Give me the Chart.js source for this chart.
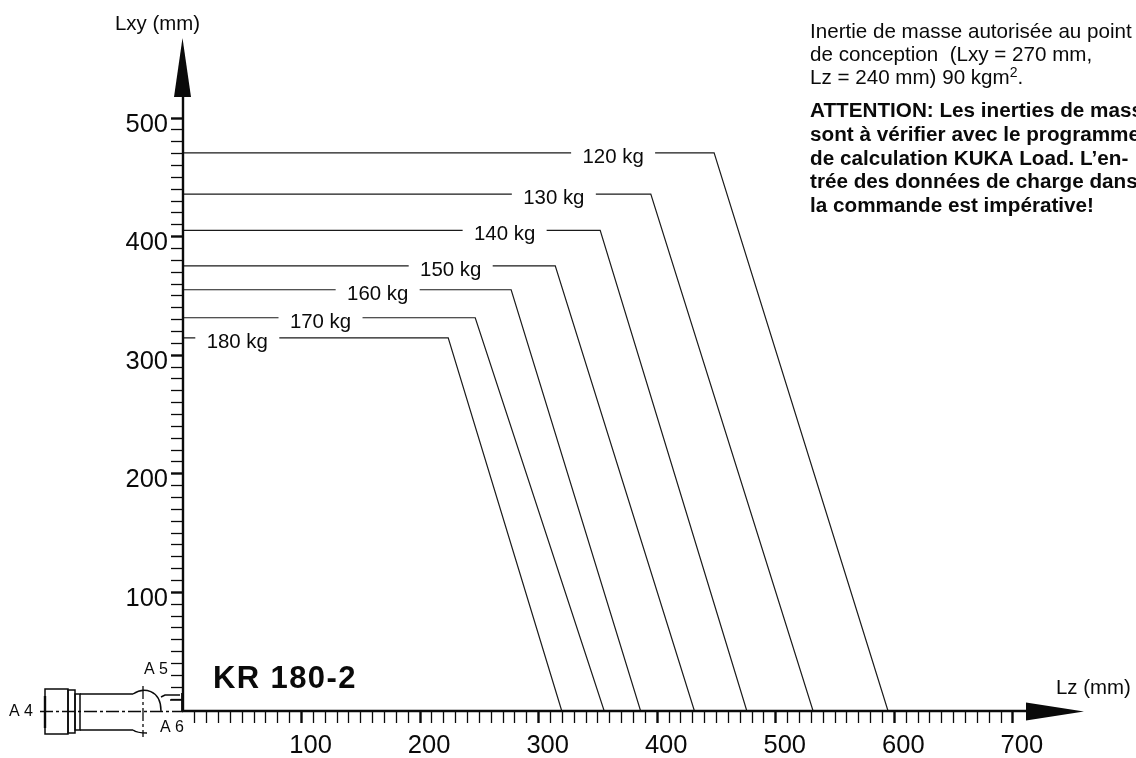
<!DOCTYPE html>
<html>
<head>
<meta charset="utf-8">
<style>
  html, body { margin: 0; padding: 0; background: #fff; overflow: hidden; }
  canvas { display: block; }
</style>
<script src="https://cdn.jsdelivr.net/npm/chart.js@4"></script>
</head>
<body>
<canvas id="payloadChart" width="1136" height="758"></canvas>
<script>
// payload curves, values
const loads = ['120 kg', '130 kg', '140 kg', '150 kg', '160 kg', '170 kg', '180 kg'];
const lxyMax = [470.7, 435.9, 405.3, 375.4, 355.2, 331.6, 314.7];
const lzAtCorner = [448, 394.6, 351.9, 314, 276.8, 246.5, 223.7];
const lzAtZero = [594.7, 531.5, 475.6, 431.4, 386, 355.3, 319.5];
const labelLz = [362.8, 312.8, 271.3, 225.8, 164.2, 116, 45.8];

const noteLines = ['Inertie de masse autorisée au point', 'de conception  (Lxy = 270 mm,', 'Lz = 240 mm) 90 kgm'];
const warnLines = ['ATTENTION: Les inerties de masse', 'sont à vérifier avec le programme', 'de calculation KUKA Load. L’en-', 'trée des données de charge dans', 'la commande est impérative!'];

const FONT = '"Liberation Sans", Arial, sans-serif';
const INK = '#0a0a0a';

const datasets = loads.map((name, i) => ({
  label: name,
  data: [
    { x: 0, y: lxyMax[i] },
    { x: lzAtCorner[i], y: lxyMax[i] },
    { x: lzAtZero[i], y: 0 }
  ],
  showLine: true,
  borderColor: '#1a1a1a',
  borderWidth: 1.2,
  pointRadius: 0,
  tension: 0
}));

function text(ctx, str, x, y, font, align) {
  ctx.font = font + ' ' + FONT;
  ctx.textAlign = align || 'left';
  ctx.textBaseline = 'alphabetic';
  ctx.fillStyle = INK;
  ctx.fillText(str, x, y);
}

// white box + load name sitting on each horizontal run
const curveLabels = {
  id: 'curveLabels',
  afterDatasetsDraw(chart) {
    const { ctx, scales } = chart;
    ctx.save();
    loads.forEach((name, i) => {
      const px = scales.x.getPixelForValue(labelLz[i]);
      const py = scales.y.getPixelForValue(lxyMax[i]);
      ctx.fillStyle = '#fff';
      ctx.fillRect(px - 42, py - 3, 84, 6);
      text(ctx, name, px, py + 10, '20.4px', 'center');
    });
    ctx.restore();
  }
};

// axis lines, arrow heads, wrist sketch and captions
const decorations = {
  id: 'decorations',
  afterDraw(chart) {
    const { ctx, scales, chartArea } = chart;
    const ox = scales.x.getPixelForValue(0);
    const oy = scales.y.getPixelForValue(0);
    ctx.save();
    ctx.strokeStyle = INK;
    ctx.fillStyle = INK;

    ctx.lineWidth = 2.4;
    ctx.beginPath();
    ctx.moveTo(ox, oy + 1);
    ctx.lineTo(ox, chartArea.top + 40);
    ctx.moveTo(ox - 1, oy);
    ctx.lineTo(chartArea.right - 40, oy);
    ctx.stroke();

    ctx.beginPath();
    ctx.moveTo(ox - 0.5, chartArea.top);
    ctx.lineTo(ox + 8, chartArea.top + 59);
    ctx.lineTo(ox - 9, chartArea.top + 59);
    ctx.closePath();
    ctx.fill();
    ctx.beginPath();
    ctx.moveTo(chartArea.right, oy + 0.5);
    ctx.lineTo(chartArea.right - 58, oy - 8.5);
    ctx.lineTo(chartArea.right - 58, oy + 9.5);
    ctx.closePath();
    ctx.fill();

    drawWrist(ctx, ox, oy);

    text(ctx, 'Lxy (mm)', 115, 30, '20.4px');
    text(ctx, 'Lz (mm)', 1056, 694, '20.4px');
    ctx.letterSpacing = '1.4px';
    text(ctx, 'KR 180-2', 213, 687.5, 'bold 31px');
    ctx.letterSpacing = '0px';
    text(ctx, 'A 5', 144, 674, '16px');
    text(ctx, 'A 4', 9, 716, '16px');
    text(ctx, 'A 6', 160, 732, '16px');

    noteLines.forEach((l, i) => text(ctx, l, 810, 37.5 + i * 23.2, '20.6px'));
    const supX = 810 + ctx.measureText(noteLines[2]).width;
    text(ctx, '2', supX, 77, '14px');
    const supW = ctx.measureText('2').width;
    text(ctx, '.', supX + supW, 84, '20.6px');
    warnLines.forEach((l, i) => text(ctx, l, 810, 117.3 + i * 23.7, 'bold 20.7px'));
    ctx.restore();
  }
};

function drawWrist(ctx, ox, oy) {
  const X = dx => ox + dx, Y = dy => oy + dy;
  ctx.lineWidth = 1.5;
  ctx.strokeRect(X(-138), Y(-22), 23, 45);
  ctx.strokeRect(X(-115), Y(-21), 7, 43);
  ctx.strokeRect(X(-108), Y(-17), 5, 36);
  ctx.beginPath();
  ctx.moveTo(X(-103), Y(-17));
  ctx.lineTo(X(-50), Y(-17));
  ctx.moveTo(X(-103), Y(19));
  ctx.lineTo(X(-50), Y(19));
  // upper and lower fork
  ctx.moveTo(X(-50), Y(-17));
  ctx.bezierCurveTo(X(-40), Y(-24), X(-22), Y(-22), X(-22), Y(0));
  ctx.moveTo(X(-22), Y(-14));
  ctx.lineTo(X(-18), Y(-16));
  ctx.lineTo(X(-3), Y(-16));
  ctx.moveTo(X(-13), Y(-11));
  ctx.lineTo(X(-1), Y(-11));
  ctx.moveTo(X(-50), Y(19));
  ctx.quadraticCurveTo(X(-46), Y(22), X(-36), Y(22));
  ctx.stroke();

  ctx.lineWidth = 2.4;
  ctx.beginPath();
  ctx.moveTo(X(-138), Y(-15));
  ctx.lineTo(X(-138), Y(17));
  ctx.stroke();
  ctx.lineWidth = 2.8;
  ctx.beginPath();
  ctx.moveTo(X(-0.5), Y(-18));
  ctx.lineTo(X(-0.5), Y(1));
  ctx.stroke();

  ctx.lineWidth = 1.3;
  ctx.setLineDash([13, 3, 3, 3]);
  ctx.beginPath();
  ctx.moveTo(X(-143), Y(0.5));
  ctx.lineTo(X(0), Y(0.5));
  ctx.moveTo(X(-40), Y(-25));
  ctx.lineTo(X(-40), Y(26));
  ctx.stroke();
  ctx.setLineDash([]);
}

new Chart(document.getElementById('payloadChart'), {
  type: 'scatter',
  data: { datasets },
  plugins: [curveLabels, decorations],
  options: {
    responsive: false,
    animation: false,
    layout: { padding: { top: 38, right: 52 } },
    plugins: { legend: { display: false }, tooltip: { enabled: false }, title: { display: false } },
    scales: {
      x: {
        type: 'linear',
        min: 0,
        max: 760,
        afterFit(scale) { scale.height = 47; },
        afterBuildTicks(scale) { scale.ticks = scale.ticks.filter(t => t.value > 0 && t.value <= 700); },
        border: { display: false },
        grid: {
          drawOnChartArea: false,
          tickLength: 12,
          tickColor: INK,
          tickWidth: c => (c.tick && c.tick.value % 100 === 0 ? 2.4 : 1.3)
        },
        ticks: {
          stepSize: 10,
          autoSkip: false,
          maxRotation: 0,
          labelOffset: 9,
          padding: 8,
          color: INK,
          font: { family: FONT, size: 25.5 },
          callback: v => (v % 100 === 0 ? String(v) : '')
        }
      },
      y: {
        type: 'linear',
        min: 0,
        max: 567.5,
        afterFit(scale) { scale.width = 183; },
        afterBuildTicks(scale) { scale.ticks = scale.ticks.filter(t => t.value > 0 && t.value <= 500); },
        border: { display: false },
        grid: {
          drawOnChartArea: false,
          tickLength: 12,
          tickColor: INK,
          tickWidth: c => (c.tick && c.tick.value % 100 === 0 ? 2.4 : 1.3)
        },
        ticks: {
          stepSize: 10,
          autoSkip: false,
          labelOffset: 6.5,
          padding: 3,
          color: INK,
          font: { family: FONT, size: 25.5 },
          callback: v => (v % 100 === 0 ? String(v) : '')
        }
      }
    }
  }
});
</script>
</body>
</html>
